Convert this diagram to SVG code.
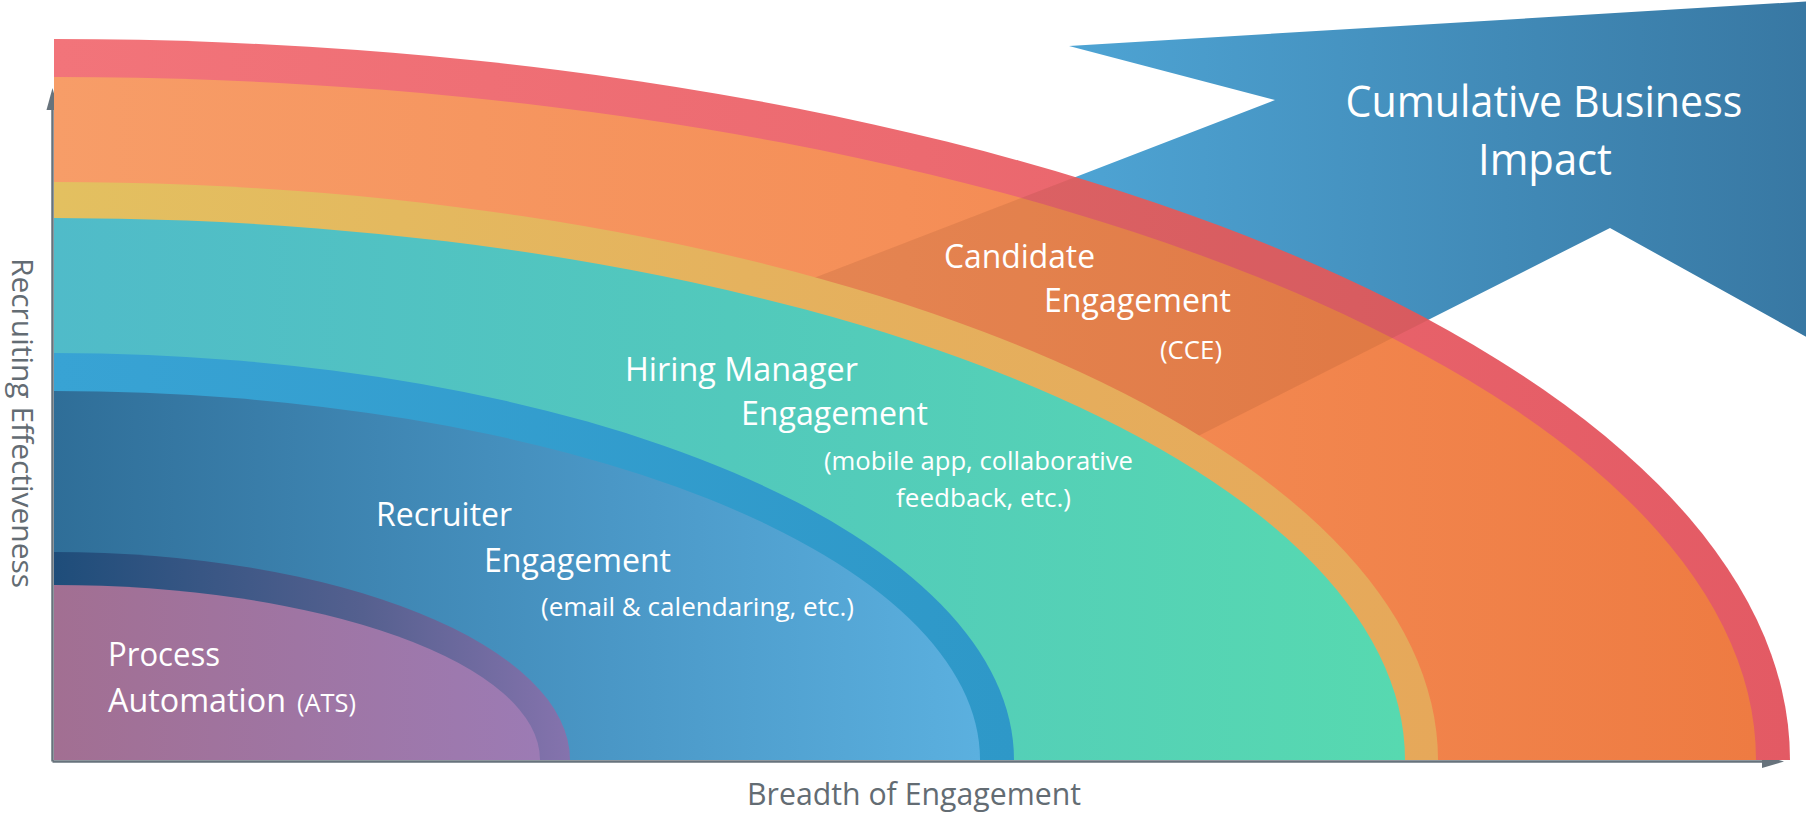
<svg xmlns="http://www.w3.org/2000/svg" width="1806" height="815" viewBox="0 0 1806 815">
  <defs>
    <style>
      .lbl { font-family: "Open Sans", "Noto Sans", "DejaVu Sans", sans-serif; fill: #ffffff; }
      .big { font-size: 32px; }
      .small { font-size: 26px; }
      .axis-title { font-family: "Open Sans", "Noto Sans", "DejaVu Sans", sans-serif; fill: #636c73; }
      .axis { stroke: #67737c; stroke-width: 2.5; fill: none; }
      .axis-head { fill: #67737c; }
    </style>
    <linearGradient id="gRed" gradientUnits="userSpaceOnUse" x1="54" y1="0" x2="1790" y2="0">
      <stop offset="0" stop-color="#f2747a"/>
      <stop offset="0.5" stop-color="#ec6a70"/>
      <stop offset="1" stop-color="#e35a64"/>
    </linearGradient>
    <linearGradient id="gOrange" gradientUnits="userSpaceOnUse" x1="54" y1="0" x2="1756" y2="0">
      <stop offset="0" stop-color="#f79d68"/>
      <stop offset="0.5" stop-color="#f58f58"/>
      <stop offset="1" stop-color="#ee7b42"/>
    </linearGradient>
    <linearGradient id="gGold" gradientUnits="userSpaceOnUse" x1="54" y1="0" x2="1438" y2="0">
      <stop offset="0" stop-color="#e3c060"/>
      <stop offset="0.5" stop-color="#e5b25e"/>
      <stop offset="1" stop-color="#e6a85a"/>
    </linearGradient>
    <linearGradient id="gTeal" gradientUnits="userSpaceOnUse" x1="54" y1="0" x2="1405" y2="0">
      <stop offset="0" stop-color="#50bbc9"/>
      <stop offset="0.5" stop-color="#52c9bc"/>
      <stop offset="1" stop-color="#57d9b0"/>
    </linearGradient>
    <linearGradient id="gSky" gradientUnits="userSpaceOnUse" x1="54" y1="0" x2="1014" y2="0">
      <stop offset="0" stop-color="#38a3d4"/>
      <stop offset="1" stop-color="#2e98c8"/>
    </linearGradient>
    <linearGradient id="gBlue" gradientUnits="userSpaceOnUse" x1="54" y1="0" x2="980" y2="0">
      <stop offset="0" stop-color="#2f6e98"/>
      <stop offset="0.6" stop-color="#4a97c6"/>
      <stop offset="1" stop-color="#5bb0df"/>
    </linearGradient>
    <linearGradient id="gNavy" gradientUnits="userSpaceOnUse" x1="54" y1="0" x2="570" y2="0">
      <stop offset="0" stop-color="#1e4d7a"/>
      <stop offset="0.6" stop-color="#55608f"/>
      <stop offset="1" stop-color="#8573ad"/>
    </linearGradient>
    <linearGradient id="gPurple" gradientUnits="userSpaceOnUse" x1="54" y1="0" x2="540" y2="0">
      <stop offset="0" stop-color="#a26f92"/>
      <stop offset="1" stop-color="#9c7bb4"/>
    </linearGradient>
    <linearGradient id="gArrow" gradientUnits="userSpaceOnUse" x1="1069" y1="0" x2="1806" y2="0">
      <stop offset="0" stop-color="#4ea4d4"/>
      <stop offset="1" stop-color="#3878a3"/>
    </linearGradient>
    <clipPath id="outerBand">
      <path d="M54,760 L54,39 A1736 721 0 0 1 1790,760 Z"/>
    </clipPath>
  </defs>

  <rect width="1806" height="815" fill="#ffffff"/>

  <!-- big arrow pointing up-right, sits behind the bands -->
  <g id="impact-arrow">
    <path d="M1069,46 L1830,0 L1830,350 L1610,228 L1000,536 L700,322 L1275,100 Z" fill="url(#gArrow)"/>
    <text class="lbl" x="1544" y="117" font-size="43" text-anchor="middle" textLength="397" lengthAdjust="spacingAndGlyphs">Cumulative Business</text>
    <text class="lbl" x="1545" y="175" font-size="43" text-anchor="middle" textLength="134" lengthAdjust="spacingAndGlyphs">Impact</text>
  </g>

  <!-- axes -->
  <g id="axes">
    <line class="axis" x1="52.5" y1="761.5" x2="52.5" y2="100"/>
    <polygon class="axis-head" points="52.5,88 46.5,110 58.5,110"/>
    <line class="axis" x1="52.5" y1="761.5" x2="1770" y2="761.5"/>
    <polygon class="axis-head" points="1784,761.5 1762,755 1762,768"/>
  </g>

  <!-- outer ring -->
  <g id="ring-red">
    <path d="M54,760 L54,39 A1736 721 0 0 1 1790,760 Z" fill="url(#gRed)"/>
  </g>

  <g id="candidate-engagement">
    <path d="M54,760 L54,77 A1702 683 0 0 1 1756,760 Z" fill="url(#gOrange)"/>
    <!-- arrow shaft showing through the two outer bands -->
    <path clip-path="url(#outerBand)" d="M1069,46 L1830,0 L1830,350 L1610,228 L1000,536 L700,322 L1275,100 Z" fill="#6b2f1a" fill-opacity="0.12"/>
  </g>

  <g id="ring-gold">
    <path d="M54,760 L54,182 A1384 578 0 0 1 1438,760 Z" fill="url(#gGold)"/>
  </g>

  <g id="hiring-manager-engagement">
    <path d="M54,760 L54,218 A1351 542 0 0 1 1405,760 Z" fill="url(#gTeal)"/>
  </g>

  <g id="ring-sky">
    <path d="M54,760 L54,353 A960 407 0 0 1 1014,760 Z" fill="url(#gSky)"/>
  </g>

  <g id="recruiter-engagement">
    <path d="M54,760 L54,391 A926 369 0 0 1 980,760 Z" fill="url(#gBlue)"/>
  </g>

  <g id="ring-navy">
    <path d="M54,760 L54,552 A516 208 0 0 1 570,760 Z" fill="url(#gNavy)"/>
  </g>

  <g id="process-automation">
    <path d="M54,760 L54,585 A486 175 0 0 1 540,760 Z" fill="url(#gPurple)"/>
  </g>

  <!-- labels -->
  <g id="labels">
    <text class="lbl big" x="944" y="268" textLength="151" lengthAdjust="spacingAndGlyphs">Candidate</text>
    <text class="lbl big" x="1044" y="312" textLength="187" lengthAdjust="spacingAndGlyphs">Engagement</text>
    <text class="lbl small" x="1160" y="359" textLength="62" lengthAdjust="spacingAndGlyphs">(CCE)</text>

    <text class="lbl big" x="625" y="381" textLength="233" lengthAdjust="spacingAndGlyphs">Hiring Manager</text>
    <text class="lbl big" x="741" y="425" textLength="187" lengthAdjust="spacingAndGlyphs">Engagement</text>
    <text class="lbl small" x="824" y="470" textLength="309" lengthAdjust="spacingAndGlyphs">(mobile app, collaborative</text>
    <text class="lbl small" x="896" y="507" textLength="175" lengthAdjust="spacingAndGlyphs">feedback, etc.)</text>

    <text class="lbl big" x="376" y="526" textLength="136" lengthAdjust="spacingAndGlyphs">Recruiter</text>
    <text class="lbl big" x="484" y="572" textLength="187" lengthAdjust="spacingAndGlyphs">Engagement</text>
    <text class="lbl small" x="541" y="616" textLength="313" lengthAdjust="spacingAndGlyphs">(email &amp; calendaring, etc.)</text>

    <text class="lbl big" x="108" y="666" textLength="112" lengthAdjust="spacingAndGlyphs">Process</text>
    <text class="lbl big" x="108" y="712" textLength="178" lengthAdjust="spacingAndGlyphs">Automation</text>
    <text class="lbl" x="297" y="712" font-size="25" textLength="59" lengthAdjust="spacingAndGlyphs">(ATS)</text>
  </g>

  <!-- axis titles -->
  <g id="axis-titles">
    <text class="axis-title" x="747" y="805" font-size="31" textLength="334" lengthAdjust="spacingAndGlyphs">Breadth of Engagement</text>
    <text class="axis-title" transform="translate(12,258) rotate(90)" x="0" y="0" font-size="29" textLength="330" lengthAdjust="spacingAndGlyphs">Recruiting Effectiveness</text>
  </g>
</svg>
